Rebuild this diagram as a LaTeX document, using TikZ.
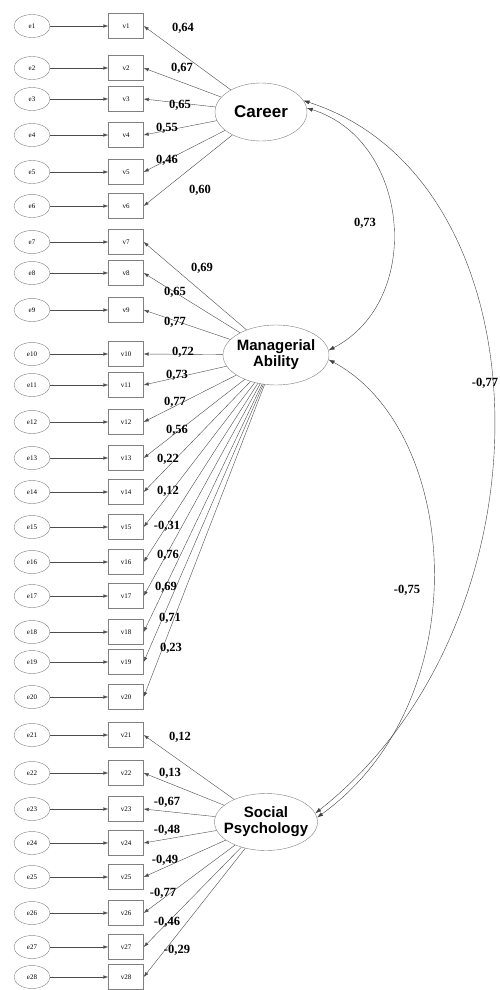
\documentclass[tikz,border=0pt]{standalone}
\usepackage{fontspec}
\setmainfont{Liberation Serif}
\newfontfamily\latfont{Liberation Sans}
\usetikzlibrary{arrows.meta,shapes.geometric}

\begin{document}
\begin{tikzpicture}[x=1pt,y=-1pt,
    err_node/.style={ellipse,draw=black!50,minimum width=36pt,minimum height=23pt,inner sep=0pt,font=\fontsize{7}{7}\selectfont},
    obs_node/.style={rectangle,draw=black!50,minimum width=35pt,minimum height=25pt,inner sep=0pt,font=\fontsize{7}{7}\selectfont},
    lat_node/.style={ellipse,draw=black!50,inner xsep=-12pt,inner ysep=0pt,align=center,font=\latfont\bfseries\fontsize{15}{16}\selectfont},
    val_node/.style={font=\bfseries\fontsize{12.5}{13}\selectfont},
    path_line/.style={draw=black!70,-{Latex[length=5pt,width=3.5pt]}},
    cov_line/.style={draw=black!75,{Latex[length=6pt,width=4pt]}-{Latex[length=6pt,width=4pt]}}]
    \useasboundingbox (0,0) rectangle (500,990);
    % error terms and observed variables
    \foreach \i/\y in {1/26,2/68,3/99,4/135,5/172,6/206,7/242,8/273,9/310,10/354,11/385,12/422,13/458,14/492,
                       15/527,16/562,17/596,18/632,19/662,20/697,21/735,22/773,23/809,24/843,25/877,26/913,27/947,28/977} {
        \node[err_node] (e\i) at (32,\y) {e\i};
        \node[obs_node] (v\i) at (126,\y) {v\i};
        \draw[path_line] (e\i) -- (v\i);
    }
    % latent factors
    \node[lat_node,minimum width=92pt,minimum height=58pt,font=\latfont\bfseries\fontsize{17}{18}\selectfont] (career) at (261,112) {Career};
    \node[lat_node,minimum width=106pt,minimum height=60pt] (manager) at (276,355) {Managerial\\Ability};
    \node[lat_node,minimum width=103pt,minimum height=57pt] (social) at (266,822) {Social\\Psychology};
    % loadings
    \foreach \i/\val/\x/\y in {1/{0,64}/183/28,2/{0,67}/182/68,3/{0,65}/180/105,4/{0,55}/167/128,5/{0,46}/167/160,6/{0,60}/200/190} {
        \draw[path_line] (career) -- (v\i.east);
        \node[val_node] (l\i) at (\x,\y) {\val};
    }
    \foreach \i/\val/\x/\y in {7/{0,69}/202/268,8/{0,65}/175/292,9/{0,77}/175/322,10/{0,72}/183/352,11/{0,73}/177/375,
                               12/{0,77}/175/402,13/{0,56}/177/430,14/{0,22}/168/459,15/{0,12}/168/491,16/{-0,31}/167/526,
                               17/{0,76}/168/555,18/{0,69}/166/587,19/{0,71}/170/618,20/{0,23}/171/648} {
        \draw[path_line] (manager) -- (v\i.east);
        \node[val_node] (l\i) at (\x,\y) {\val};
    }
    \foreach \i/\val/\x/\y in {21/{0,12}/180/737,22/{0,13}/170/773,23/{-0,67}/167/802,24/{-0,48}/167/830,
                               25/{-0,49}/165/860,26/{-0,77}/163/893,27/{-0,46}/167/922,28/{-0,29}/177/950} {
        \draw[path_line] (social) -- (v\i.east);
        \node[val_node] (l\i) at (\x,\y) {\val};
    }
    % covariances
    \draw[cov_line] (career.5) .. controls (410,140) and (425,300) .. (manager.5);
    \draw[cov_line] (career.15) .. controls (550,180) and (560,620) .. (social.10);
    \draw[cov_line] (manager.355) .. controls (460,430) and (480,700) .. (social.5);
    \node[val_node] (c1) at (365,223) {0,73};
    \node[val_node] (c2) at (407,590) {-0,75};
    \node[val_node] (c3) at (485,383) {-0,77};
\end{tikzpicture}
\end{document}
